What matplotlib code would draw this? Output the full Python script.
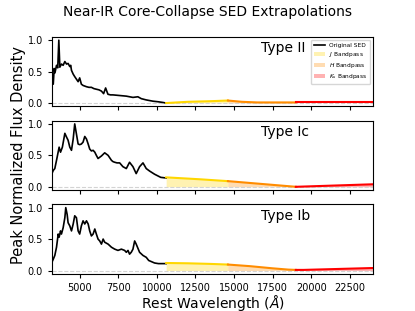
import numpy as np
import matplotlib.pyplot as plt
from matplotlib.lines import Line2D
from matplotlib.patches import Patch

# original SEDs (rest wavelength in Angstrom, peak normalised flux)
wave_ii = [3200, 3290, 3350, 3400, 3500, 3580, 3650, 3716, 3820, 3930, 4040, 4150, 4250, 4360, 4420, 4470,
           4580, 4680, 4790, 4900, 5000, 5110, 5220, 5440, 5600, 5760, 5920, 6080, 6250, 6410, 6550,
           6680, 6830, 7000, 7150, 7590, 8020, 8450, 8770, 8990, 9310, 9740, 10100, 10380, 10600]
flux_ii = [0.40, 0.30, 0.55, 0.48, 0.60, 0.56, 1.00, 0.57, 0.62, 0.60, 0.66, 0.62, 0.63, 0.58, 0.60, 0.52,
           0.46, 0.42, 0.38, 0.34, 0.40, 0.30, 0.28, 0.26, 0.25, 0.25, 0.23, 0.22, 0.21, 0.19, 0.15,
           0.24, 0.14, 0.13, 0.13, 0.12, 0.11, 0.09, 0.10, 0.07, 0.05, 0.03, 0.02, 0.01, 0.00]

wave_ic = [3200, 3290, 3390, 3500, 3670, 3760, 3880, 4040, 4150, 4250, 4360, 4470, 4580, 4680, 4790,
           4900, 5000, 5110, 5220, 5330, 5440, 5550, 5650, 5760, 5870, 5980, 6080, 6190, 6300, 6410,
           6620, 6840, 7060, 7160, 7270, 7420, 7590, 7800, 8020, 8230, 8450, 8660, 8880, 9100, 9310,
           9530, 9850, 10250, 10600]
flux_ic = [0.21, 0.26, 0.29, 0.42, 0.63, 0.55, 0.63, 0.85, 0.79, 0.74, 0.63, 0.58, 0.76, 1.00, 0.84,
           0.68, 0.67, 0.68, 0.71, 0.80, 0.76, 0.68, 0.60, 0.57, 0.58, 0.55, 0.50, 0.45, 0.47, 0.49,
           0.54, 0.50, 0.42, 0.40, 0.39, 0.38, 0.38, 0.32, 0.29, 0.39, 0.32, 0.21, 0.32, 0.38, 0.29,
           0.25, 0.20, 0.15, 0.14]

wave_ib = [3200, 3290, 3390, 3500, 3610, 3670, 3760, 3820, 3930, 4040, 4100, 4190, 4250, 4360, 4470,
           4580, 4680, 4790, 4900, 5000, 5110, 5220, 5330, 5440, 5550, 5650, 5760, 5870, 5980, 6080,
           6190, 6300, 6410, 6520, 6620, 6840, 7060, 7270, 7480, 7700, 7910, 8020, 8130, 8230, 8340,
           8450, 8560, 8660, 8880, 9100, 9310, 9470, 9850, 10100, 10600]
flux_ib = [0.13, 0.18, 0.24, 0.37, 0.58, 0.53, 0.63, 0.58, 0.68, 0.84, 1.00, 0.89, 0.76, 0.71, 0.63,
           0.74, 0.87, 0.84, 0.63, 0.58, 0.71, 0.79, 0.74, 0.79, 0.74, 0.63, 0.55, 0.58, 0.66, 0.58,
           0.50, 0.47, 0.42, 0.50, 0.45, 0.42, 0.37, 0.34, 0.32, 0.34, 0.32, 0.29, 0.32, 0.26, 0.29,
           0.34, 0.47, 0.42, 0.29, 0.24, 0.21, 0.16, 0.12, 0.11, 0.11]

# near-IR extrapolations
ext_wave_ii = [10600, 12000, 13500, 14600, 15500, 16500, 19000, 21500, 24000]
ext_flux_ii = [0.00, 0.02, 0.03, 0.04, 0.02, 0.01, 0.01, 0.01, 0.01]
ext_wave_ic = [10600, 12750, 14600, 19000, 24000]
ext_flux_ic = [0.15, 0.12, 0.09, 0.00, 0.04]
ext_wave_ib = [10600, 12000, 13500, 14600, 16000, 17500, 18500, 19000, 19500, 21000, 22500, 24000]
ext_flux_ib = [0.12, 0.115, 0.105, 0.095, 0.07, 0.035, 0.015, 0.01, 0.01, 0.02, 0.03, 0.04]

types = ['Type II', 'Type Ic', 'Type Ib']
bands = [(10600, 14600), (14600, 19000), (19000, 24000)]
band_colors = ['gold', 'darkorange', 'red']
band_labels = ['$J$ Bandpass', '$H$ Bandpass', '$K_s$ Bandpass']

seds = [(wave_ii, flux_ii, ext_wave_ii, ext_flux_ii),
        (wave_ic, flux_ic, ext_wave_ic, ext_flux_ic),
        (wave_ib, flux_ib, ext_wave_ib, ext_flux_ib)]

fig, axs = plt.subplots(3, 1, figsize=(4.15, 3.11), dpi=100, sharex=True)
fig.subplots_adjust(left=0.125, right=0.899, top=0.881, bottom=0.12, hspace=0.21)

for ax, name, (w, f, ew, ef) in zip(axs, types, seds):
    ax.axhline(0, color='lightgray', ls='--', lw=0.8)
    ax.plot(w, f, color='k', lw=1.2)
    ew = np.array(ew)
    ef = np.array(ef)
    for (lo, hi), c in zip(bands, band_colors):
        m = (ew >= lo) & (ew <= hi)
        ax.fill_between(ew[m], 0, ef[m], color=c, alpha=0.3, lw=0)
        ax.plot(ew[m], ef[m], color=c, lw=1.5)
    ax.set_xlim(3200, 24000)
    ax.set_ylim(-0.05, 1.05)
    ax.set_yticks([0, 0.5, 1.0])
    ax.tick_params(labelsize=7, length=3)
    ax.text(0.65, 0.94, name, transform=ax.transAxes, fontsize=10, va='top', ha='left')

handles = [Line2D([], [], color='k', lw=1.2)] + \
          [Patch(facecolor=c, alpha=0.3) for c in band_colors]
axs[0].legend(handles, ['Original SED'] + band_labels, loc='upper right', fontsize=4.2,
              handlelength=2.0, borderpad=0.5, labelspacing=0.35, handletextpad=0.6)

axs[2].set_xticks([5000, 7500, 10000, 12500, 15000, 17500, 20000, 22500])
axs[2].set_xlabel(r'Rest Wavelength ($\mathit{Å}$)', fontsize=10, labelpad=0)
fig.text(0.045, 0.5, 'Peak Normalized Flux Density', rotation=90, fontsize=10.5,
         va='center', ha='center')
fig.suptitle('Near-IR Core-Collapse SED Extrapolations', fontsize=10, y=0.985)

plt.savefig('out.png', dpi=100)
